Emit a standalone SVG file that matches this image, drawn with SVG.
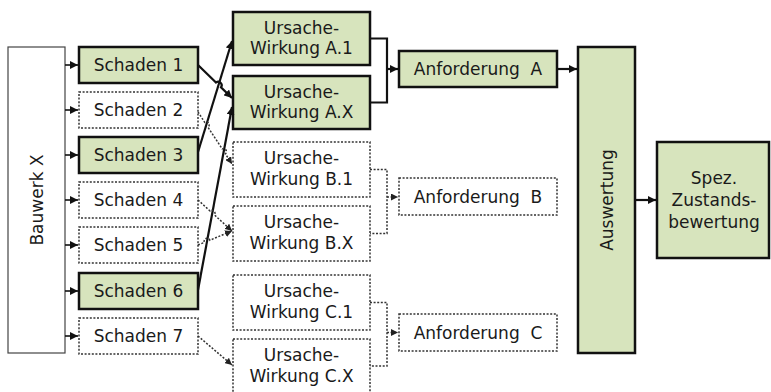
<svg xmlns="http://www.w3.org/2000/svg" width="771" height="392" viewBox="0 0 771 392">
  <style>
    .lbl { font-family: "DejaVu Sans", Verdana, sans-serif; font-size: 17px; fill: #1a1a1a; text-anchor: middle; }
    .on { fill: #d7e4bd; stroke: #111; stroke-width: 2.5; }
    .off { fill: #fff; stroke: #333; stroke-width: 1.5; stroke-dasharray: 2 1.6; }
    .base { fill: #fff; stroke: #444; stroke-width: 1.2; }
    .solid { fill: none; stroke: #111; stroke-width: 2.2; }
    .thin { fill: none; stroke: #111; stroke-width: 1.6; }
    .dot { fill: none; stroke: #333; stroke-width: 1.5; stroke-dasharray: 2 1.6; }
  </style>
  <defs>
    <marker id="ah" viewBox="0 0 8 8" refX="8" refY="4" markerWidth="8" markerHeight="8" markerUnits="userSpaceOnUse" orient="auto">
      <path d="M0,0 L8,4 L0,8 z" fill="#111"/>
    </marker>
    <marker id="ahs" viewBox="0 0 8 8" refX="8" refY="4" markerWidth="7" markerHeight="7" markerUnits="userSpaceOnUse" orient="auto">
      <path d="M0,0 L8,4 L0,8 z" fill="#222"/>
    </marker>
  </defs>

  <!-- building -->
  <g id="bauwerk">
    <rect class="base" x="8" y="47" width="57" height="306"/>
    <text class="lbl" transform="translate(43,200) rotate(-90)">Bauwerk X</text>
  </g>

  <!-- damages -->
  <g id="schaden1"><rect class="on" x="79" y="47" width="119" height="36"/><text class="lbl" x="138.5" y="71">Schaden 1</text></g>
  <g id="schaden2"><rect class="off" x="79" y="92" width="119" height="36"/><text class="lbl" x="138.5" y="116">Schaden 2</text></g>
  <g id="schaden3"><rect class="on" x="79" y="137" width="119" height="36"/><text class="lbl" x="138.5" y="161">Schaden 3</text></g>
  <g id="schaden4"><rect class="off" x="79" y="182" width="119" height="36"/><text class="lbl" x="138.5" y="206">Schaden 4</text></g>
  <g id="schaden5"><rect class="off" x="79" y="227" width="119" height="36"/><text class="lbl" x="138.5" y="251">Schaden 5</text></g>
  <g id="schaden6"><rect class="on" x="79" y="273" width="119" height="36"/><text class="lbl" x="138.5" y="297">Schaden 6</text></g>
  <g id="schaden7"><rect class="off" x="79" y="318" width="119" height="36"/><text class="lbl" x="138.5" y="342">Schaden 7</text></g>

  <!-- cause-effect relations -->
  <g id="uw-a1"><rect class="on" x="233" y="12" width="137" height="53"/><text class="lbl" x="301.5" y="34">Ursache-</text><text class="lbl" x="301.5" y="54">Wirkung A.1</text></g>
  <g id="uw-ax"><rect class="on" x="233" y="76" width="137" height="53"/><text class="lbl" x="301.5" y="98">Ursache-</text><text class="lbl" x="301.5" y="118">Wirkung A.X</text></g>
  <g id="uw-b1"><rect class="off" x="233" y="142" width="137" height="55"/><text class="lbl" x="301.5" y="164">Ursache-</text><text class="lbl" x="301.5" y="185">Wirkung B.1</text></g>
  <g id="uw-bx"><rect class="off" x="233" y="206" width="137" height="55"/><text class="lbl" x="301.5" y="228">Ursache-</text><text class="lbl" x="301.5" y="249">Wirkung B.X</text></g>
  <g id="uw-c1"><rect class="off" x="233" y="275" width="137" height="55"/><text class="lbl" x="301.5" y="297">Ursache-</text><text class="lbl" x="301.5" y="318">Wirkung C.1</text></g>
  <g id="uw-cx"><rect class="off" x="233" y="339" width="137" height="55"/><text class="lbl" x="301.5" y="361">Ursache-</text><text class="lbl" x="301.5" y="382">Wirkung C.X</text></g>

  <!-- requirements -->
  <g id="anf-a"><rect class="on" x="399" y="51" width="158" height="36"/><text class="lbl" x="478" y="75" xml:space="preserve">Anforderung  A</text></g>
  <g id="anf-b"><rect class="off" x="399" y="178" width="158" height="37"/><text class="lbl" x="478" y="203" xml:space="preserve">Anforderung  B</text></g>
  <g id="anf-c"><rect class="off" x="399" y="314" width="158" height="37"/><text class="lbl" x="478" y="339" xml:space="preserve">Anforderung  C</text></g>

  <!-- evaluation -->
  <g id="auswertung">
    <rect class="on" x="578" y="47" width="57" height="306"/>
    <text class="lbl" transform="translate(613,200) rotate(-90)">Auswertung</text>
  </g>

  <!-- result -->
  <g id="zustand">
    <rect class="on" x="657" y="142" width="112" height="116"/>
    <text class="lbl" x="714" y="184">Spez.</text>
    <text class="lbl" x="714" y="206">Zustands-</text>
    <text class="lbl" x="714" y="228">bewertung</text>
  </g>

  <g id="connectors">
    <!-- building to damages -->
    <path class="thin" d="M65 65 H78" marker-end="url(#ah)"/>
    <path class="thin" d="M65 110 H78" marker-end="url(#ah)"/>
    <path class="thin" d="M65 155 H78" marker-end="url(#ah)"/>
    <path class="thin" d="M65 200 H78" marker-end="url(#ah)"/>
    <path class="thin" d="M65 245 H78" marker-end="url(#ah)"/>
    <path class="thin" d="M65 291 H78" marker-end="url(#ah)"/>
    <path class="thin" d="M65 336 H78" marker-end="url(#ah)"/>

    <!-- damages to cause-effect relations -->
    <path class="solid" d="M198 65 L216 82.5 A3.5 3.5 0 0 1 221 87.3 L232 98" marker-end="url(#ah)"/>
    <path class="solid" d="M198 152 L232 41" marker-end="url(#ah)"/>
    <path class="solid" d="M198 290 L232 107" marker-end="url(#ah)"/>
    <path class="dot" d="M198 112 L204.7 122.3 A3 3 0 0 1 208 127.3 L222.2 148.9 A3 3 0 0 1 225.4 153.9 L232 164" marker-end="url(#ahs)"/>
    <path class="dot" d="M198 200 L210.1 211 A3 3 0 0 1 214.5 215 L232 231" marker-end="url(#ahs)"/>
    <path class="dot" d="M198 245 L204.3 242.4 A3 3 0 0 1 209.9 240.2 L232 231" marker-end="url(#ahs)"/>
    <path class="dot" d="M198 336 L232 365" marker-end="url(#ahs)"/>

    <!-- cause-effect relations to requirements -->
    <path class="solid" d="M370 38.5 H387 V102.5 H370"/>
    <path class="solid" d="M387 69 H398" marker-end="url(#ah)"/>
    <path class="dot" d="M370 169.5 H387 V233.5 H370"/>
    <path class="dot" d="M387 197 H398" marker-end="url(#ahs)"/>
    <path class="dot" d="M370 302.5 H387 V366 H370"/>
    <path class="dot" d="M387 332.5 H398" marker-end="url(#ahs)"/>

    <!-- requirement to evaluation, evaluation to result -->
    <path class="solid" d="M557 69 H577" marker-end="url(#ah)"/>
    <path class="solid" d="M635 200 H656" marker-end="url(#ah)"/>
  </g>
</svg>
